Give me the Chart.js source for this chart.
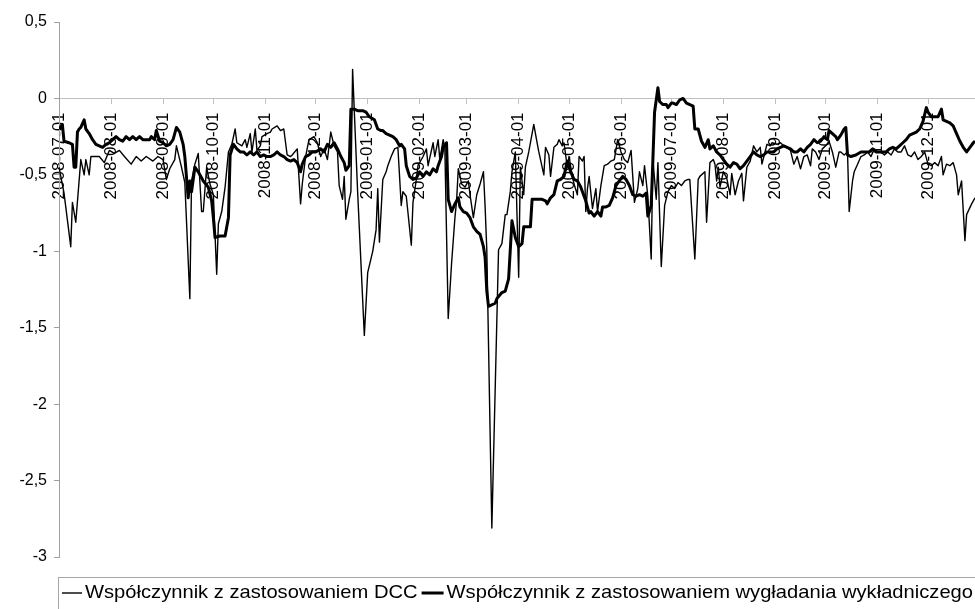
<!DOCTYPE html>
<html>
<head>
<meta charset="utf-8">
<script src="https://cdn.jsdelivr.net/npm/chart.js@4"></script>
<style>
  html, body { margin: 0; padding: 0; background: #fff; }
  canvas { display: block; }
</style>
</head>
<body>
<canvas id="chart" width="975" height="609"></canvas>
<script>
const ctx = document.querySelector('#chart')

// month ticks on the x axis
const monthLabels = ['2008-07-01', '2008-08-01', '2008-09-01', '2008-10-01', '2008-11-01', '2008-12-01',
    '2009-01-01', '2009-02-01', '2009-03-01', '2009-04-01', '2009-05-01', '2009-06-01',
    '2009-07-01', '2009-08-01', '2009-09-01', '2009-10-01', '2009-11-01', '2009-12-01']
const yTicks = [0.5, 0, -0.5, -1, -1.5, -2, -2.5, -3]

const seriesNames = ['Współczynnik z zastosowaniem DCC', 'Współczynnik z zastosowaniem wygładania wykładniczego']

// [days since 2008-07-01, value]
const dcc = [[0,-0.45],[3,-0.62],[7,-0.97],[8,-0.68],[10,-0.81],[13,-0.40],[15,-0.50],[16,-0.40],[18,-0.50],[19,-0.38],
    [24,-0.38],[27,-0.42],[30,-0.34],[33,-0.36],[36,-0.34],[39,-0.38],[43,-0.43],[46,-0.38],[49,-0.41],[52,-0.38],
    [56,-0.41],[59,-0.38],[62,-0.40],[64,-0.53],[66,-0.46],[69,-0.40],[70,-0.31],[73,-0.45],[75,-0.55],[78,-1.31],
    [79,-0.54],[81,-0.43],[83,-0.36],[85,-0.74],[86,-0.74],[88,-0.45],[90,-0.56],[92,-0.63],[94,-1.15],[95,-0.82],
    [97,-0.74],[99,-0.58],[101,-0.35],[103,-0.30],[105,-0.20],[106,-0.29],[109,-0.31],[111,-0.27],[112,-0.32],[114,-0.23],
    [115,-0.35],[117,-0.20],[118,-0.34],[120,-0.31],[121,-0.25],[124,-0.23],[126,-0.22],[127,-0.20],[130,-0.18],[132,-0.21],
    [134,-0.20],[136,-0.37],[138,-0.38],[139,-0.37],[142,-0.33],[144,-0.69],[145,-0.56],[147,-0.38],[149,-0.27],[152,-0.25],
    [154,-0.29],[156,-0.38],[158,-0.33],[160,-0.40],[162,-0.22],[164,-0.31],[166,-0.35],[167,-0.57],[169,-0.66],[170,-0.51],
    [171,-0.79],[173,-0.66],[174,-0.61],[175,0.19],[178,-0.61],[182,-1.55],[184,-1.14],[187,-1.00],[189,-0.86],[190,-0.59],
    [191,-0.94],[193,-0.53],[195,-0.48],[196,-0.44],[198,-0.38],[200,-0.33],[202,-0.32],[204,-0.70],[205,-0.61],[207,-0.64],
    [210,-0.96],[211,-0.68],[213,-0.53],[214,-0.44],[217,-0.38],[219,-0.33],[220,-0.44],[223,-0.29],[224,-0.38],[226,-0.27],
    [227,-0.40],[229,-0.27],[230,-0.33],[232,-1.44],[234,-1.08],[236,-0.78],[237,-0.67],[238,-0.46],[240,-0.56],[242,-0.58],
    [244,-0.54],[245,-0.63],[247,-0.78],[249,-0.63],[251,-0.56],[253,-0.48],[254,-0.71],[255,-0.99],[258,-2.81],[262,-0.99],
    [264,-0.95],[266,-0.76],[267,-0.76],[269,-0.61],[270,-0.48],[272,-0.35],[274,-1.17],[275,-0.45],[277,-0.63],[278,-0.45],
    [280,-0.35],[283,-0.17],[285,-0.29],[286,-0.35],[289,-0.50],[290,-0.32],[292,-0.37],[293,-0.51],[295,-0.32],[297,-0.30],
    [298,-0.27],[300,-0.31],[301,-0.29],[303,-0.45],[304,-0.38],[306,-0.51],[307,-0.56],[309,-0.63],[310,-0.38],[312,-0.41],
    [313,-0.38],[314,-0.74],[315,-0.59],[316,-0.51],[318,-0.72],[320,-0.59],[321,-0.74],[323,-0.57],[325,-0.44],[327,-0.43],
    [329,-0.41],[331,-0.40],[333,-0.27],[335,-0.35],[337,-0.40],[339,-0.42],[341,-0.34],[343,-0.68],[345,-0.59],[346,-0.48],
    [348,-0.57],[349,-0.44],[351,-0.64],[353,-1.05],[354,-0.40],[356,-0.66],[357,-0.42],[359,-1.10],[361,-0.70],[363,-0.61],
    [365,-0.57],[367,-0.59],[369,-0.55],[371,-0.57],[373,-0.54],[375,-0.53],[376,-0.53],[379,-1.05],[381,-0.53],[382,-0.51],
    [385,-0.48],[386,-0.81],[388,-0.42],[390,-0.40],[391,-0.43],[392,-0.54],[393,-0.45],[394,-0.58],[396,-0.48],[398,-0.52],
    [400,-0.63],[401,-0.49],[403,-0.63],[405,-0.54],[407,-0.49],[408,-0.67],[410,-0.45],[412,-0.41],[414,-0.31],[416,-0.35],
    [418,-0.32],[419,-0.43],[422,-0.30],[424,-0.31],[425,-0.29],[428,-0.30],[430,-0.29],[432,-0.31],[434,-0.32],[436,-0.34],
    [438,-0.43],[440,-0.38],[442,-0.46],[444,-0.38],[446,-0.37],[448,-0.44],[449,-0.33],[451,-0.35],[453,-0.40],[455,-0.33],
    [457,-0.31],[459,-0.28],[461,-0.35],[463,-0.45],[465,-0.35],[466,-0.35],[468,-0.37],[470,-0.35],[471,-0.74],[473,-0.54],
    [474,-0.48],[476,-0.43],[478,-0.38],[480,-0.37],[482,-0.35],[484,-0.38],[486,-0.33],[488,-0.35],[490,-0.35],[492,-0.37],
    [494,-0.35],[496,-0.37],[498,-0.33],[500,-0.35],[502,-0.35],[504,-0.31],[506,-0.37],[508,-0.38],[510,-0.35],[512,-0.40],
    [514,-0.38],[516,-0.35],[518,-0.43],[520,-0.44],[522,-0.42],[524,-0.44],[526,-0.38],[527,-0.50],[529,-0.43],[531,-0.44],
    [533,-0.42],[535,-0.50],[536,-0.63],[538,-0.54],[540,-0.93],[541,-0.76],[544,-0.69],[546,-0.65]]

const expSmooth = [[0,-0.20],[2,-0.17],[3,-0.28],[6,-0.29],[8,-0.30],[9,-0.45],[10,-0.45],[11,-0.22],[12,-0.20],[13,-0.19],
    [15,-0.14],[16,-0.20],[18,-0.23],[20,-0.27],[22,-0.30],[24,-0.31],[26,-0.32],[28,-0.30],[30,-0.29],[32,-0.27],
    [34,-0.25],[36,-0.27],[38,-0.28],[40,-0.25],[42,-0.27],[44,-0.25],[46,-0.27],[48,-0.25],[50,-0.27],[52,-0.27],
    [54,-0.27],[55,-0.25],[57,-0.27],[58,-0.21],[60,-0.28],[62,-0.29],[64,-0.31],[66,-0.30],[68,-0.27],[70,-0.19],
    [72,-0.22],[74,-0.30],[75,-0.38],[77,-0.65],[78,-0.54],[79,-0.61],[81,-0.45],[83,-0.48],[86,-0.54],[89,-0.58],
    [91,-0.67],[92,-0.78],[93,-0.91],[96,-0.90],[99,-0.90],[101,-0.78],[102,-0.37],[104,-0.30],[106,-0.33],[108,-0.35],
    [110,-0.35],[112,-0.37],[114,-0.35],[116,-0.37],[118,-0.35],[120,-0.38],[122,-0.37],[124,-0.38],[126,-0.38],[128,-0.37],
    [130,-0.35],[132,-0.37],[134,-0.38],[136,-0.40],[138,-0.41],[140,-0.40],[142,-0.42],[144,-0.48],[145,-0.43],[147,-0.38],
    [149,-0.37],[151,-0.35],[153,-0.35],[156,-0.33],[158,-0.35],[160,-0.30],[162,-0.32],[164,-0.29],[166,-0.33],[168,-0.38],
    [170,-0.42],[171,-0.47],[173,-0.44],[174,-0.07],[176,-0.07],[178,-0.08],[181,-0.08],[183,-0.09],[185,-0.12],[188,-0.14],
    [190,-0.20],[192,-0.21],[193,-0.21],[195,-0.23],[197,-0.24],[199,-0.25],[201,-0.27],[203,-0.31],[204,-0.30],[206,-0.33],
    [207,-0.44],[209,-0.51],[211,-0.53],[213,-0.52],[215,-0.48],[217,-0.51],[219,-0.48],[221,-0.50],[223,-0.46],[225,-0.48],
    [226,-0.44],[228,-0.38],[229,-0.32],[231,-0.29],[232,-0.66],[234,-0.74],[236,-0.69],[238,-0.65],[239,-0.71],[241,-0.74],
    [243,-0.75],[245,-0.78],[247,-0.84],[249,-0.87],[251,-0.89],[253,-0.97],[254,-1.04],[255,-1.26],[256,-1.36],[260,-1.34],
    [261,-1.31],[264,-1.27],[266,-1.26],[268,-1.18],[270,-0.80],[272,-0.91],[274,-0.97],[276,-0.95],[277,-0.84],[279,-0.84],
    [281,-0.84],[282,-0.66],[284,-0.66],[286,-0.66],[288,-0.66],[290,-0.67],[291,-0.69],[293,-0.65],[295,-0.63],[297,-0.54],
    [299,-0.53],[301,-0.51],[303,-0.41],[305,-0.48],[307,-0.53],[309,-0.54],[311,-0.58],[312,-0.61],[314,-0.67],[316,-0.75],
    [317,-0.74],[319,-0.77],[321,-0.74],[323,-0.77],[324,-0.71],[326,-0.71],[328,-0.70],[330,-0.65],[332,-0.57],[334,-0.54],
    [336,-0.51],[338,-0.53],[340,-0.57],[342,-0.63],[344,-0.64],[346,-0.63],[348,-0.64],[350,-0.62],[351,-0.77],[353,-0.70],
    [354,-0.40],[355,-0.09],[357,0.07],[358,-0.02],[360,-0.04],[362,-0.04],[363,-0.06],[365,-0.03],[366,-0.03],[368,-0.04],
    [370,-0.01],[372,0.00],[374,-0.03],[376,-0.04],[378,-0.05],[379,-0.20],[381,-0.20],[383,-0.28],[385,-0.32],[387,-0.27],
    [388,-0.33],[390,-0.31],[391,-0.33],[392,-0.35],[394,-0.37],[396,-0.40],[398,-0.43],[400,-0.45],[402,-0.42],[404,-0.43],
    [406,-0.46],[408,-0.44],[410,-0.41],[412,-0.38],[414,-0.35],[416,-0.37],[418,-0.38],[420,-0.37],[422,-0.35],[424,-0.35],
    [426,-0.35],[428,-0.33],[430,-0.32],[432,-0.31],[434,-0.32],[436,-0.33],[438,-0.35],[440,-0.35],[442,-0.33],[444,-0.35],
    [446,-0.32],[448,-0.30],[450,-0.27],[452,-0.29],[454,-0.28],[456,-0.25],[458,-0.27],[459,-0.21],[461,-0.23],[463,-0.25],
    [464,-0.27],[466,-0.24],[468,-0.20],[469,-0.19],[470,-0.37],[472,-0.38],[475,-0.37],[478,-0.35],[481,-0.35],[483,-0.35],
    [485,-0.33],[487,-0.35],[489,-0.35],[491,-0.35],[493,-0.35],[495,-0.33],[497,-0.32],[499,-0.33],[501,-0.31],[503,-0.29],
    [505,-0.27],[507,-0.24],[509,-0.23],[511,-0.22],[513,-0.20],[515,-0.15],[517,-0.06],[518,-0.09],[520,-0.12],[522,-0.12],
    [524,-0.12],[526,-0.07],[527,-0.14],[529,-0.15],[531,-0.16],[533,-0.18],[535,-0.23],[537,-0.28],[539,-0.32],[541,-0.35],
    [543,-0.32],[545,-0.29],[546,-0.28]]

const dayZero = Date.UTC(2008, 6, 1)
const monthDays = monthLabels.map(s => {
    const p = s.split('-')
    return Math.round((Date.UTC(+p[0], +p[1] - 1, +p[2]) - dayZero) / 86400000)
})

const font = "'Liberation Sans', Arial, sans-serif"

const legendBox = {
    id: 'legendBox',
    afterDraw(chart) {
        const c = chart.ctx
        const y = 593
        c.save()
        c.strokeStyle = '#a6a6a6'
        c.lineWidth = 1
        c.strokeRect(58.5, 577.5, 960, 50)
        c.font = '19px ' + font
        c.fillStyle = '#000'
        c.textBaseline = 'middle'
        const w1 = c.measureText(seriesNames[0]).width
        const w2 = c.measureText(seriesNames[1]).width
        const s = (973 - 85 - 4 - 22 - 3) / (w1 + w2)
        c.strokeStyle = '#000'
        c.lineWidth = 1.4
        c.beginPath(); c.moveTo(62, y); c.lineTo(82, y); c.stroke()
        c.save(); c.translate(85, y); c.scale(s, 1); c.fillText(seriesNames[0], 0, 0); c.restore()
        const x2 = 85 + w1 * s + 4
        c.lineWidth = 3
        c.beginPath(); c.moveTo(x2, y); c.lineTo(x2 + 22, y); c.stroke()
        c.save(); c.translate(x2 + 25, y); c.scale(s, 1); c.fillText(seriesNames[1], 0, 0); c.restore()
        c.restore()
    }
}

new Chart(ctx, {
    type: 'line',
    data: {
        datasets: [
            {
                label: seriesNames[0],
                data: dcc.map(p => ({ x: p[0], y: p[1] })),
                borderColor: '#000',
                borderWidth: 1.4,
                borderJoinStyle: 'round',
                pointRadius: 0,
                tension: 0,
                order: 1
            },
            {
                label: seriesNames[1],
                data: expSmooth.map(p => ({ x: p[0], y: p[1] })),
                borderColor: '#000',
                borderWidth: 3,
                borderJoinStyle: 'round',
                pointRadius: 0,
                tension: 0,
                order: 0
            }
        ]
    },
    options: {
        responsive: false,
        animation: false,
        layout: { padding: { left: 0, right: 0, top: 22, bottom: 52 } },
        plugins: { legend: false, tooltip: { enabled: false } },
        scales: {
            x: {
                type: 'linear',
                position: { y: 0 },
                min: 0,
                max: 546,
                afterBuildTicks: scale => { scale.ticks = monthDays.map(v => ({ value: v })) },
                grid: { display: true, drawOnChartArea: false, tickLength: 5, color: '#c0c0c0' },
                border: { color: '#c0c0c0' },
                ticks: {
                    autoSkip: false,
                    minRotation: 90,
                    maxRotation: 90,
                    padding: 9,
                    color: '#000',
                    font: { family: font, size: 17 },
                    callback: v => monthLabels[monthDays.indexOf(v)]
                }
            },
            y: {
                min: -3,
                max: 0.5,
                afterBuildTicks: scale => { scale.ticks = yTicks.map(v => ({ value: v })) },
                afterFit: scale => { scale.width = 59 },
                grid: { display: true, drawOnChartArea: false, tickLength: 5, color: '#a0a0a0' },
                border: { color: '#a0a0a0' },
                ticks: {
                    padding: 7,
                    color: '#000',
                    font: { family: font, size: 16 },
                    callback: v => String(v).replace('.', ',')
                }
            }
        }
    },
    plugins: [legendBox]
})
</script>
</body>
</html>
